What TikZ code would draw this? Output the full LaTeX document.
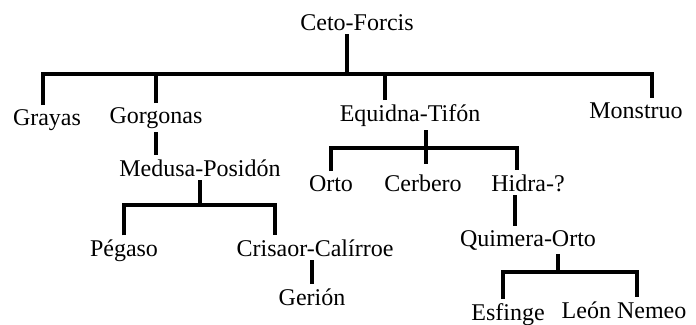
\documentclass[tikz,border=0pt]{standalone}
\usepackage{fontspec}
\setmainfont{Liberation Serif}
\usepackage{tikz}
\usetikzlibrary{positioning}

\begin{document}
\begin{tikzpicture}[x=1pt,y=-1pt,
		gen/.style={font=\fontsize{24}{28}\selectfont, inner sep=2pt, outer sep=2pt, anchor=base},
		rama/.style={line width=3.3pt}]
		\useasboundingbox (0,0) rectangle (696,324);
		\node[gen] (ceto) at (357,30) {Ceto-Forcis};
		\node[gen] (grayas) at (47,125) {Grayas};
		\node[gen] (gorgonas) at (156,123) {Gorgonas};
		\node[gen] (equidna) at (410,121) {Equidna-Tifón};
		\node[gen] (monstruo) at (636,118) {Monstruo};
		\node[gen] (medusa) at (200,176) {Medusa-Posidón};
		\node[gen] (orto) at (331,191) {Orto};
		\node[gen] (cerbero) at (423,191) {Cerbero};
		\node[gen] (hidra) at (528,191) {Hidra-?};
		\node[gen] (pegaso) at (124,256) {Pégaso};
		\node[gen] (crisaor) at (315,256) {Crisaor-Calírroe};
		\node[gen] (quimera) at (528,246) {Quimera-Orto};
		\node[gen] (gerion) at (312,305) {Gerión};
		\node[gen] (esfinge) at (508,320) {Esfinge};
		\node[gen] (leon) at (624,318) {León Nemeo};
		\coordinate (bar1) at (347,74);
		\coordinate (bar2) at (426,148);
		\coordinate (bar3) at (200,205);
		\coordinate (bar4) at (558,272);
		\coordinate (eqdrop) at ([xshift=-25pt]equidna.north);
		\draw[rama] ([xshift=-10pt]ceto.south) -- (bar1);
		\draw[rama] ([xshift=-4pt]grayas.north) |- (bar1) -| ([xshift=16pt]monstruo.north);
		\draw[rama] (gorgonas.north) -- (gorgonas.north |- bar1);
		\draw[rama] (eqdrop) -- (eqdrop |- bar1);
		\draw[rama] (gorgonas.south) -- (gorgonas.south |- medusa.north);
		\draw[rama] (medusa.south) -- (bar3);
		\draw[rama] (pegaso.north) |- (bar3) -| ([xshift=-40pt]crisaor.north);
		\draw[rama] (gerion.north |- crisaor.south) -- (gerion.north);
		\draw[rama] (equidna.south -| bar2) -- ([yshift=6pt]cerbero.north -| bar2);
		\draw[rama] (orto.north) |- (bar2) -| ([xshift=-11pt]hidra.north);
		\draw[rama] ([xshift=-13pt]hidra.south) -- ([xshift=-13pt]hidra.south |- quimera.north);
		\draw[rama] ([xshift=30pt]quimera.south) -- (bar4);
		\draw[rama] ([xshift=-5pt]esfinge.north) |- (bar4) -| ([xshift=13pt]leon.north);
	\end{tikzpicture}
\end{document}
